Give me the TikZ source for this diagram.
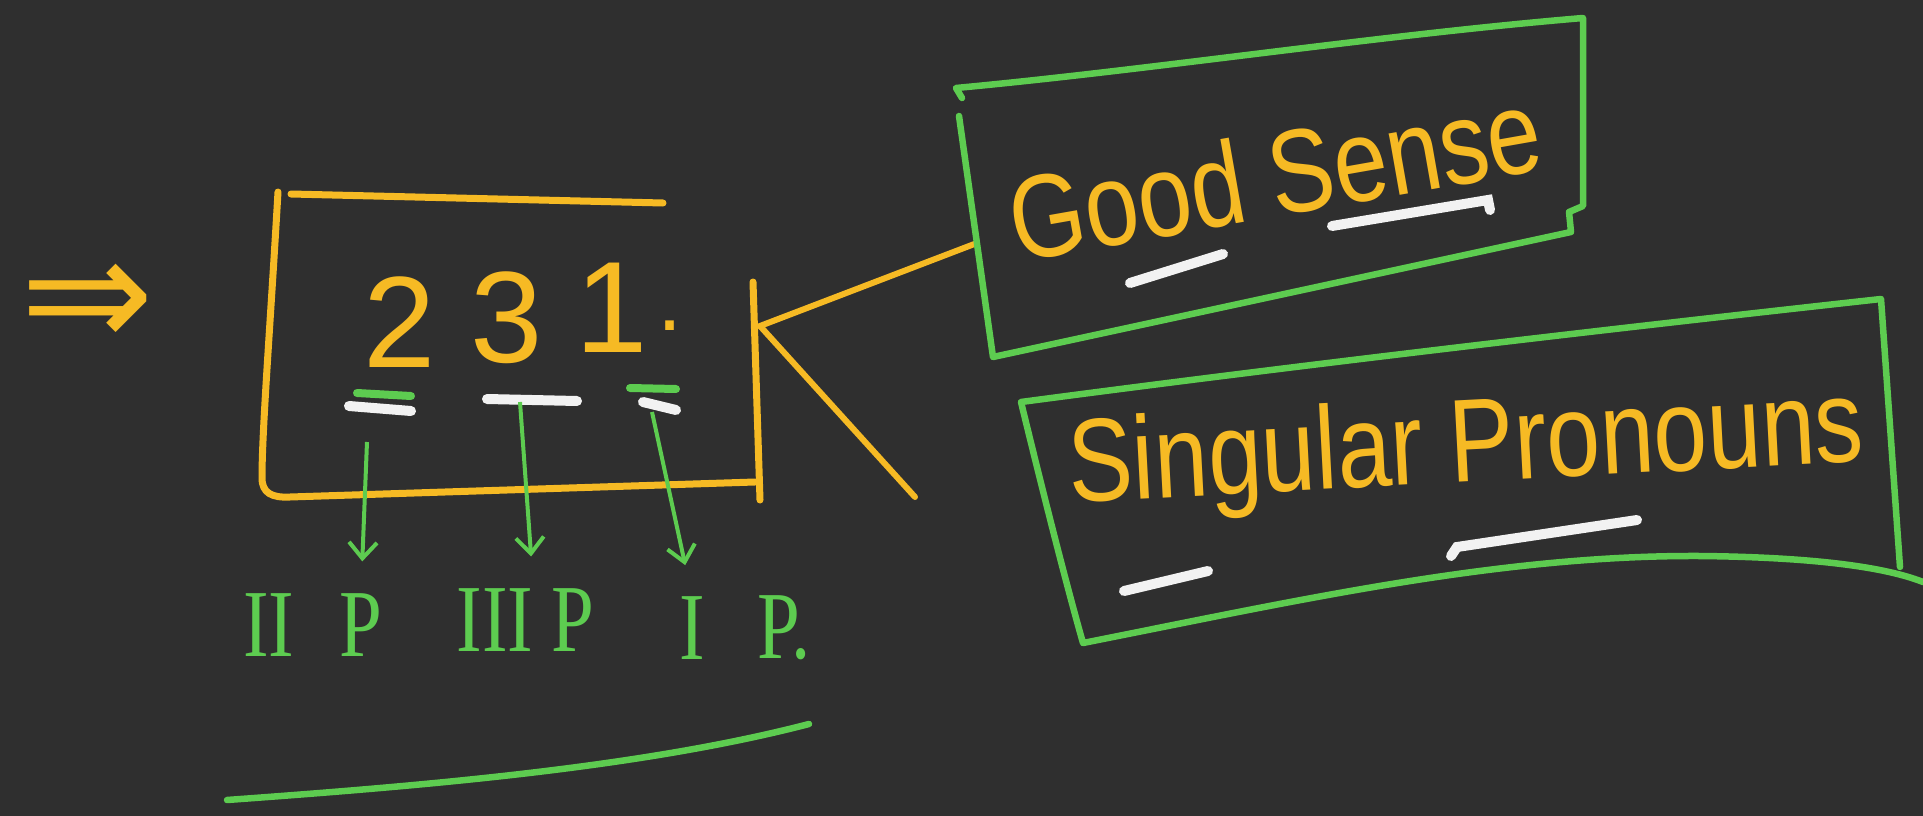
\documentclass[tikz,border=0pt]{standalone}
\usepackage{fontspec}
\setmainfont{Liberation Sans}
\newfontfamily\handfont[FakeStretch=0.82]{Liberation Sans}
\newfontfamily\romfont[FakeStretch=0.8]{Liberation Serif}
\newfontfamily\symfont{DejaVu Sans}
\usepackage{tikz}
\usetikzlibrary{arrows.meta,positioning}
\definecolor{board}{HTML}{2F2F2F}
\definecolor{chalkor}{HTML}{F6BA24}
\definecolor{chalkgr}{HTML}{5DCC50}
\definecolor{chalkwh}{HTML}{F2F2F2}

\begin{document}
\begin{tikzpicture}[x=1pt, y=-1pt,
  digit/.style={text=chalkor, inner sep=0pt, font=\fontsize{130}{130}\selectfont},
  word/.style={text=chalkor, inner sep=0pt, anchor=base, font=\handfont\fontsize{118}{118}\selectfont},
  pers/.style={text=chalkgr, inner sep=0pt, font=\romfont\fontsize{96}{96}\selectfont},
  obox/.style={chalkor, line width=7pt, line cap=round, line join=round},
  gbox/.style={chalkgr, line width=6.5pt, line cap=round, line join=round},
  hl/.style={chalkwh, line width=10pt, line cap=round},
  tick/.style={chalkgr, line width=8pt, line cap=round},
  ar/.style={-{Straight Barb[length=16pt, width=28pt, line width=4pt]}, chalkgr,
             line width=4pt, shorten >=32pt}]

  \fill[board] (0,0) rectangle (1923,816);
  \useasboundingbox (0,0) rectangle (1923,816);

  \node[text=chalkor, inner sep=0pt, font=\symfont\fontsize{160}{160}\selectfont] (impl) at (88,306) {⇒};

  % the number
  \node[digit] (two) at (400,322) {2};
  \node[digit] (three) at (507,318) {3};
  \node[digit] (one) at (612,308) {1};
  \node[digit, font=\fontsize{90}{90}\selectfont] (dot) at (670,326) {.};
  \draw[obox] (291,194) -- (663,203);
  \draw[obox] (278,192) .. controls (270,330) and (262,430) .. (262,478)
    .. controls (262,493) and (272,498) .. (290,497) -- (755,482);
  \draw[obox] (753,282) -- (760,500);

  % marks under the digits
  \draw[tick] (357,393) -- (411,396);
  \draw[hl] (349,406) -- (411,411);
  \draw[hl] (487,399) -- (577,401);
  \draw[tick] (630,388) -- (676,389);
  \draw[hl] (643,402) -- (676,410);
  \coordinate (m2) at (367,442);
  \coordinate (m3) at (520,402);
  \coordinate (m1) at (652,412);

  % persons
  \node[pers] (p2) at (361,625) {P};
  \node[pers, left=45pt of p2] (n2) {II};
  \node[pers] (p3) at (573,620) {P};
  \node[pers, left=18pt of p3] (n3) {III};
  \node[pers] (n1) at (692,628) {I};
  \node[pers, right=52pt of n1] (p1) {P.};

  \draw[ar] (m2) -- (p2.north);
  \draw[ar] (m3) -- (n3.north east);
  \draw[ar] (m1) -- (n1.north);
  \draw[gbox] (227,800) .. controls (420,786) and (640,768) .. (809,724);

  % K connector
  \coordinate (kj) at (760,326);
  \coordinate (gsw) at (977,243);
  \coordinate (kend) at (915,497);
  \draw[obox, line width=6pt] (kj) -- (gsw);
  \draw[obox, line width=6pt] (kj) -- (kend);

  % Good Sense
  \node[word, rotate=10] (gs) at (1282,216) {Good Sense};
  \draw[gbox] (962,98) -- (956,88) .. controls (1150,70) and (1380,35) .. (1583,18)
    -- (1583,206) -- (1569,212) -- (1571,232) -- (993,357) -- (959,116);
  \draw[hl] (1130,283) -- (1223,254);
  \draw[hl] (1332,226) -- (1488,200) -- (1490,210);

  % Singular Pronouns
  \node[word, rotate=3] (sp) at (1468,482) {Singular Pronouns};
  \draw[gbox] (1900,567) -- (1881,299) .. controls (1600,330) and (1300,365) .. (1021,402)
    .. controls (1040,480) and (1065,580) .. (1083,643)
    .. controls (1300,600) and (1500,555) .. (1700,556)
    .. controls (1800,557) and (1880,565) .. (1923,582);
  \draw[hl] (1124,591) -- (1208,571);
  \draw[hl] (1451,556) -- (1457,547) -- (1637,520);
\end{tikzpicture}
\end{document}
